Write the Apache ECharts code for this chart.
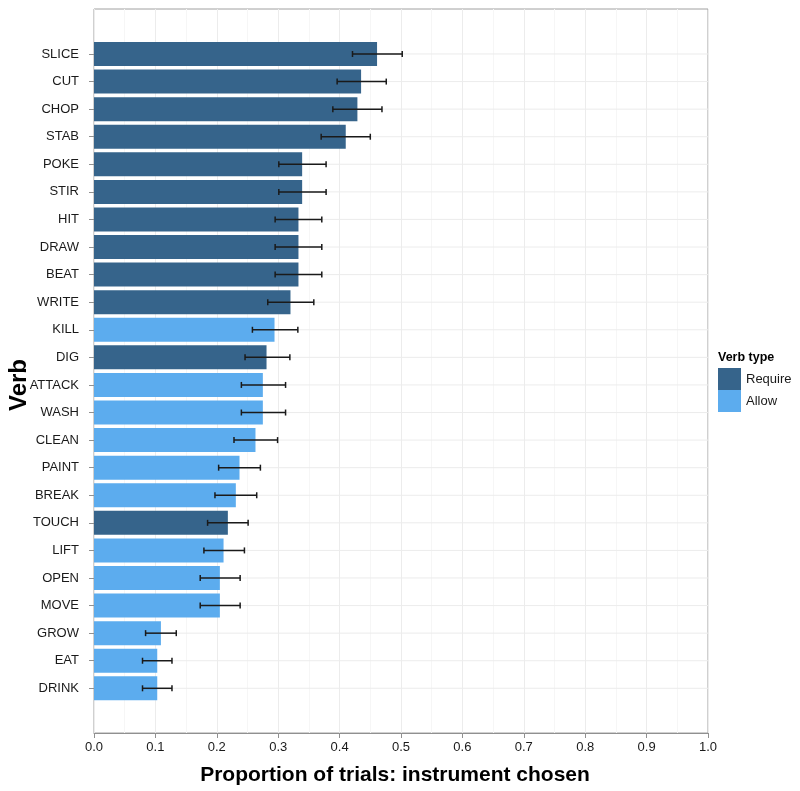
<!DOCTYPE html>
<html>
<head>
<meta charset="utf-8">
<script src="https://cdn.jsdelivr.net/npm/echarts@6/dist/echarts.min.js"></script>
<style>
html,body{margin:0;padding:0;background:#fff;}
#chart{width:800px;height:791px;}
</style>
</head>
<body>
<div id="chart"></div>
<script>
const verbs = ['SLICE','CUT','CHOP','STAB','POKE','STIR','HIT','DRAW','BEAT','WRITE','KILL','DIG','ATTACK','WASH','CLEAN','PAINT','BREAK','TOUCH','LIFT','OPEN','MOVE','GROW','EAT','DRINK'];
const verbTypes = ['Require','Require','Require','Require','Require','Require','Require','Require','Require','Require','Allow','Require','Allow','Allow','Allow','Allow','Allow','Require','Allow','Allow','Allow','Allow','Allow','Allow'];
const proportion = [0.461,0.435,0.429,0.410,0.339,0.339,0.333,0.333,0.333,0.320,0.294,0.281,0.275,0.275,0.263,0.237,0.231,0.218,0.211,0.205,0.205,0.109,0.103,0.103];
const lowerCI = [0.421,0.396,0.389,0.370,0.301,0.301,0.295,0.295,0.295,0.283,0.258,0.246,0.240,0.240,0.228,0.203,0.197,0.185,0.179,0.173,0.173,0.084,0.079,0.079];
const upperCI = [0.502,0.476,0.469,0.450,0.378,0.378,0.371,0.371,0.371,0.358,0.332,0.319,0.312,0.312,0.299,0.271,0.265,0.251,0.245,0.238,0.238,0.134,0.127,0.127];
const typeNames = ['Require','Allow'];
const typeColors = {Require:'#36648B', Allow:'#5CACEE'};

const FONT = '"Liberation Sans", Arial, Helvetica, sans-serif';
const chart = echarts.init(document.getElementById('chart'));

const barSeries = typeNames.map(t => ({
  name: t,
  type: 'bar',
  xAxisIndex: 1, yAxisIndex: 1,
  stack: 'v',
  barWidth: 24,
  itemStyle: {color: typeColors[t]},
  data: proportion.map((v, i) => verbTypes[i] === t ? v : '-'),
  z: 3
}));

const option = {
  animation: false,
  backgroundColor: '#fff',
  textStyle: {fontFamily: FONT},
  legend: {
    data: typeNames,
    orient: 'vertical',
    left: 713, top: 363,
    itemWidth: 23, itemHeight: 22, itemGap: 0,
    icon: 'rect',
    textStyle: {fontFamily: FONT, fontSize: 13, color: '#1a1a1a'}
  },
  graphic: [
    {type:'text', left: 718, top: 351, style:{text:'Verb type', font:'bold 12.5px ' + FONT, fill:'#000'}},
    {type:'text', left: 7, top: 359, rotation: Math.PI/2, style:{text:'Verb', font:'bold 24px ' + FONT, fill:'#000'}}
  ],
  grid: [
    {left: 94, right: 92, top: 9, bottom: 58, show: true, borderColor: '#a0a0a0', borderWidth: 1, containLabel: false},
    {left: 94, right: 92, top: 40.2, bottom: 88.9, containLabel: false}
  ],
  xAxis: [
    {
      gridIndex: 0, type: 'value', min: 0, max: 1, interval: 0.1,
      name: 'Proportion of trials: instrument chosen',
      nameLocation: 'middle', nameGap: 32,
      nameTextStyle: {fontFamily: FONT, fontSize: 21, fontWeight: 'bold', color: '#000', padding:[0,12,0,0]},
      axisLine: {show: true, lineStyle: {color: '#909090', width: 1}},
      axisTick: {show: true, length: 5, lineStyle: {color: '#909090'}},
      axisLabel: {fontFamily: FONT, fontSize: 13, color: '#1a1a1a', margin: 8, formatter: v => v.toFixed(1)},
      splitLine: {show: true, lineStyle: {color: '#ececec', width: 1}},
      minorTick: {show: false, splitNumber: 2},
      minorSplitLine: {show: true, lineStyle: {color: '#f6f6f6', width: 1}}
    },
    {
      gridIndex: 1, type: 'value', min: 0, max: 1, show: false
    }
  ],
  yAxis: [
    {gridIndex: 0, type: 'value', show: false, splitLine:{show:false}},
    {
      gridIndex: 1, type: 'category', data: verbs, inverse: true,
      axisLine: {show: false},
      axisTick: {show: true, alignWithLabel: true, length: 5, lineStyle: {color: '#909090'}},
      axisLabel: {fontFamily: FONT, fontSize: 13, color: '#1a1a1a', margin: 15},
      splitLine: {show: false}
    }
  ],
  series: [
    {
      type: 'custom', xAxisIndex: 1, yAxisIndex: 1, z: 1, silent: true,
      data: verbs.map((v, i) => [i]),
      encode: {y: 0},
      renderItem: (params, api) => {
        const a = api.coord([0, api.value(0)]);
        const b = api.coord([1, api.value(0)]);
        return {type: 'line', shape: {x1: a[0], y1: a[1], x2: b[0], y2: b[1]}, style: {stroke: '#ececec', lineWidth: 1}};
      }
    },
    ...barSeries,
    {
      type: 'custom', xAxisIndex: 1, yAxisIndex: 1, z: 5, silent: true,
      data: verbs.map((v, i) => [lowerCI[i], upperCI[i], i]),
      encode: {x: [0, 1], y: 2},
      renderItem: (params, api) => {
        const lo = api.coord([api.value(0), api.value(2)]);
        const hi = api.coord([api.value(1), api.value(2)]);
        const c = 3;
        const st = {stroke: '#1a1a1a', lineWidth: 1.5};
        return {type: 'group', children: [
          {type: 'line', shape: {x1: lo[0], y1: lo[1], x2: hi[0], y2: hi[1]}, style: st},
          {type: 'line', shape: {x1: lo[0], y1: lo[1]-c, x2: lo[0], y2: lo[1]+c}, style: st},
          {type: 'line', shape: {x1: hi[0], y1: hi[1]-c, x2: hi[0], y2: hi[1]+c}, style: st}
        ]};
      }
    }
  ]
};
chart.setOption(option);
</script>
</body>
</html>
